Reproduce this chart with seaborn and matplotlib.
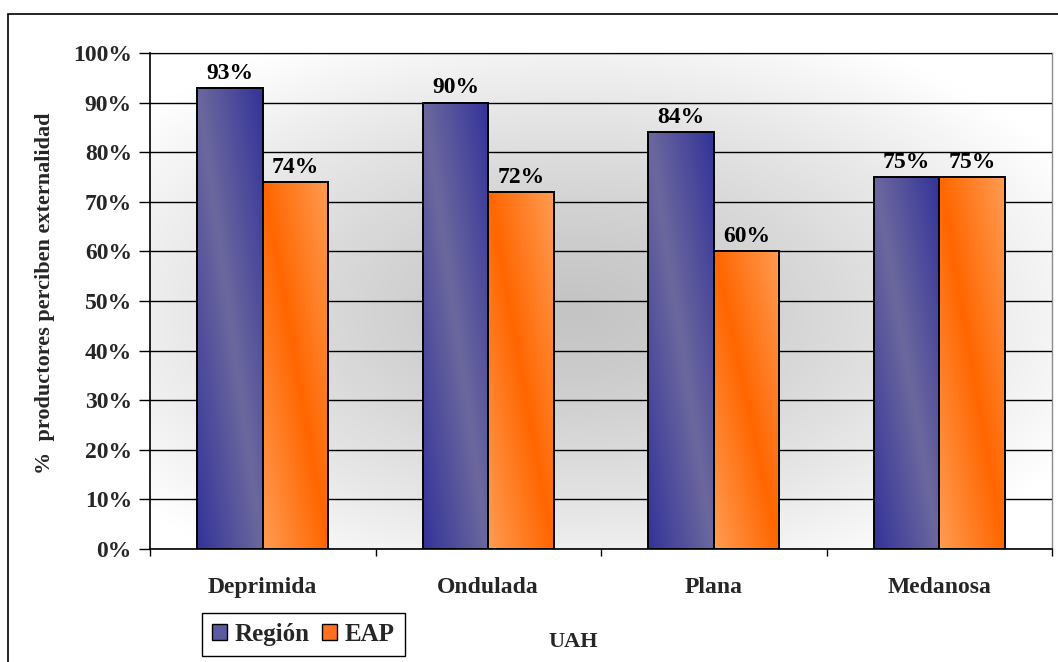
import numpy as np
import pandas as pd
import matplotlib
matplotlib.use("Agg")
import matplotlib.pyplot as plt
import seaborn as sns
from matplotlib.patches import Rectangle

# Data
categorias = ["Deprimida", "Ondulada", "Plana", "Medanosa"]
series = ["Región", "EAP"]
region = [93, 90, 84, 75]
eap = [74, 72, 60, 75]
yticks = list(range(0, 101, 10))

df = pd.DataFrame({
    "UAH": categorias * 2,
    "serie": [series[0]] * len(categorias) + [series[1]] * len(categorias),
    "valor": region + eap,
})

# gradient end colours for each series (light, dark)
grad = {
    "Región": (np.array([108, 104, 158]) / 255, np.array([51, 51, 153]) / 255),
    "EAP": (np.array([255, 156, 82]) / 255, np.array([255, 102, 0]) / 255),
}
flat = {"Región": "#5a5a9e", "EAP": "#ff7020"}

sns.set_theme(style="white")
plt.rcParams["font.family"] = ["Liberation Serif", "DejaVu Serif"]
plt.rcParams["font.weight"] = "bold"

fig = plt.figure(figsize=(10.58, 6.62), dpi=100)
ax = fig.add_axes([150 / 1058, 1 - 549 / 662, 902 / 1058, 496 / 662])

sns.barplot(data=df, x="UAH", y="valor", hue="serie", hue_order=series,
            palette=[flat[s] for s in series], width=0.58, saturation=1,
            edgecolor="black", linewidth=1.4, ax=ax, legend=False, zorder=3)

# plot-area background: light radial shading
gx = np.linspace(0, 1, 300)
gy = np.linspace(0, 1, 200)
GX, GY = np.meshgrid(gx, gy)
r = np.sqrt(((GX - 0.47) / 0.62) ** 2 + ((GY - 0.48) / 0.62) ** 2)
r = np.clip(r, 0, 1)
shade = 0.77 + (1.0 - 0.77) * r ** 1.3
ax.imshow(np.dstack([shade] * 3), extent=[-0.5, 3.5, 0, 100], origin="lower",
          aspect="auto", zorder=0, interpolation="bilinear")

# diagonal gradient fill inside each bar
nper = len(categorias)
for i, patch in enumerate(ax.patches):
    s = series[i // nper]
    light, dark = grad[s]
    x0, y0 = patch.get_x(), patch.get_y()
    w, h = patch.get_width(), patch.get_height()
    U, V = np.meshgrid(np.linspace(0, 1, 60), np.linspace(0, 1, 300))
    d = np.abs(U + V - 1)
    if s == "EAP":
        d = 1 - d
    rgb = light[None, None, :] * (1 - d[..., None]) + dark[None, None, :] * d[..., None]
    ax.imshow(rgb, extent=[x0, x0 + w, y0, y0 + h], origin="lower",
              aspect="auto", zorder=3, interpolation="bilinear")
    patch.set_facecolor("none")
    patch.set_zorder(4)

# value labels
for cont, vals in zip(ax.containers, [region, eap]):
    ax.bar_label(cont, labels=[f"{v}%" for v in vals], padding=3,
                 fontsize=17, fontweight="bold", color="black", zorder=5)

ax.set_xlim(-0.5, 3.5)
ax.set_ylim(0, 100)
ax.set_yticks(yticks)
ax.set_yticklabels([f"{t}%" for t in yticks], fontsize=17, fontweight="bold")
ax.tick_params(axis="y", direction="out", length=8, width=1, color="black", pad=5,
               left=True)
ax.set_xticks(range(len(categorias)))
ax.set_xticklabels(categorias, fontsize=17, fontweight="bold")
ax.set_xticks([-0.5, 0.5, 1.5, 2.5, 3.5], minor=True)
ax.tick_params(axis="x", which="major", length=0, pad=20)
ax.tick_params(axis="x", which="minor", direction="out", length=5, width=1,
               color="black", bottom=True)

ax.yaxis.grid(True, color="black", linewidth=1)
ax.xaxis.grid(False)
ax.set_axisbelow(False)
for gl in ax.get_ygridlines():
    gl.set_zorder(1)

ax.set_ylabel("%  productores perciben externalidad", fontsize=16, fontweight="bold")
ax.yaxis.set_label_coords(-0.105, 0.515)
ax.set_xlabel("UAH", fontsize=16, fontweight="bold")
ax.xaxis.set_label_coords((573 - 150) / 902, (549 - 632) / 496)

for side in ["left", "bottom"]:
    ax.spines[side].set_color("black")
    ax.spines[side].set_linewidth(1.2)
    ax.spines[side].set_zorder(6)
for side in ["top", "right"]:
    ax.spines[side].set_color("#8c8c8c")
    ax.spines[side].set_linewidth(1)

# chart frame
fig.patches.append(Rectangle((8 / 1058, -0.05), 1.2, 1 - 14 / 662 + 0.05,
                             transform=fig.transFigure, fill=False,
                             edgecolor="black", linewidth=1.2))

handles = [Rectangle((0, 0), 1, 1, facecolor=flat[s], edgecolor="black", linewidth=1)
           for s in series]
fig.legend(handles, series, loc="upper left",
           bbox_to_anchor=(202 / 1058, 1 - 613 / 662), ncol=2, frameon=True,
           fancybox=False, edgecolor="black", framealpha=1, borderaxespad=0,
           prop={"size": 18, "weight": "bold"}, handlelength=0.6, handleheight=0.6,
           handletextpad=0.3, columnspacing=0.5, borderpad=0.4)

fig.savefig("out.png", dpi=100, facecolor="white")
